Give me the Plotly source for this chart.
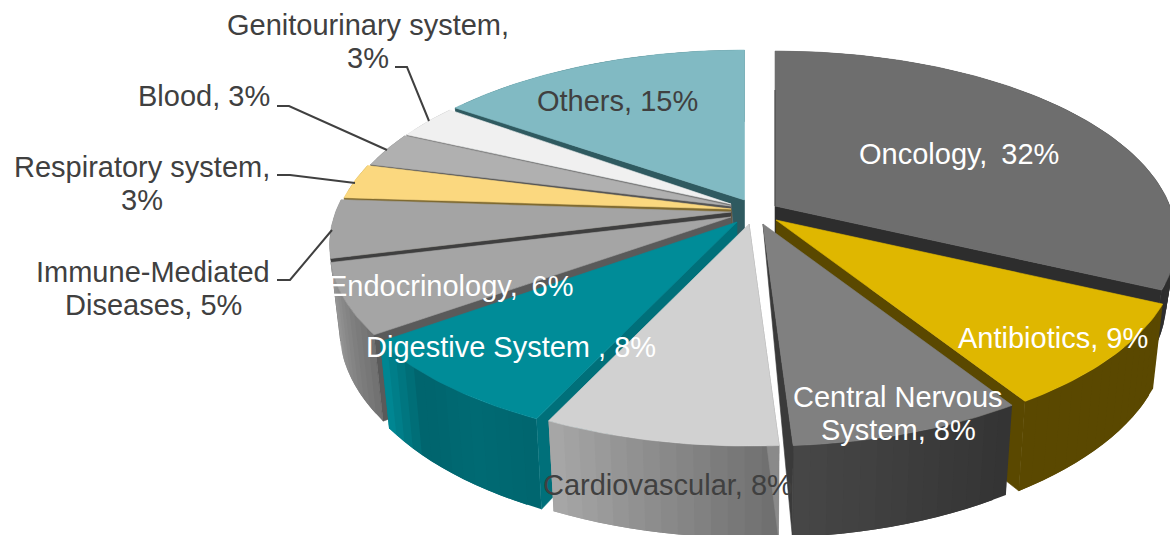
import math
import plotly.graph_objects as go

categories = ["Oncology", "Antibiotics", "Central Nervous System", "Cardiovascular",
              "Digestive System", "Endocrinology", "Immune-Mediated Diseases",
              "Respiratory system", "Blood", "Genitourinary system", "Others"]
values = [32, 9, 8, 8, 8, 6, 5, 3, 3, 3, 15]
top_colors = ["#6e6e6e", "#dfb700", "#808080", "#d1d1d1", "#008c98", "#a5a5a5",
              "#a4a4a4", "#fbd87f", "#b0b0b0", "#f0f0f0", "#81bac3"]
cut_colors = ["#2d2d2d", "#5a4800", "#3a3a3a", "#8a8a8a", "#00707a", "#5a5a5a",
              "#3f3f3f", "#7f6a30", "#555555", "#777777", "#2f5a60"]
# rim shades in order of increasing pie angle
rim_colors = [["#5a5a5a", "#2d2d2d"], ["#5a4800", "#5a4800"], ["#333333", "#474747"],
              ["#6e6e6e", "#a8a8a8"], ["#00656e", "#006a73", "#00646d", "#008a96"],
              ["#707070", "#9c9c9c"], ["#808080", "#909090"], ["#a08a40", "#a08a40"],
              ["#808080", "#808080"], ["#a0a0a0", "#a0a0a0"], ["#3f6f76", "#3f6f76"]]
drops = [60, 80, 80, 80, 80, 80, 80, 80, 80, 80, 80]
hubs = [(775, 206), (776, 220), (763, 224), (749, 224), (737, 222), (731, 215),
        (731, 211), (734, 209), (737, 208), (739, 207), (744.5, 205)]
tips = [(775, 206), (776, 220), (763, 224), (749, 224), (737, 222), (731, 217),
        (731, 212), (731, 209), (731, 206), (731, 204), (744.5, 200)]
paint_order = [0, 10, 9, 8, 7, 6, 5, 4, 1, 2, 3]

labels = [
    ("Oncology,\u2009 32%", 959, 154, "#ffffff"),
    ("Others, 15%", 617, 101, "#404040"),
    ("Antibiotics, 9%", 1053, 338, "#ffffff"),
    ("Central Nervous", 898, 397, "#ffffff"),
    ("System, 8%", 898, 430, "#ffffff"),
    ("Cardiovascular, 8%", 668, 485, "#404040"),
    ("Digestive System\u00a0, 8%", 511, 347, "#ffffff"),
    ("Endocrinology,\u2009 6%", 450, 286, "#ffffff"),
    ("Genitourinary system,", 368, 25, "#404040"),
    ("3%", 368, 58, "#404040"),
    ("Blood, 3%", 204, 96, "#404040"),
    ("Respiratory system,", 142, 167, "#404040"),
    ("3%", 142, 200, "#404040"),
    ("Immune-Mediated", 153, 272, "#404040"),
    ("Diseases, 5%", 153, 305, "#404040"),
]
leaders = [
    ([395, 407, 429], [67, 67, 121]),
    ([277, 289, 387], [106, 106, 150]),
    ([277, 290, 355], [175, 175, 183]),
    ([277, 290, 332], [280, 280, 230]),
]

R, V, P, SHRINK = 395.0, 182.5, 0.178, 0.975


def hexmix(a, b, t):
    ca = [int(a[i:i + 2], 16) for i in (1, 3, 5)]
    cb = [int(b[i:i + 2], 16) for i in (1, 3, 5)]
    return "rgb(%d,%d,%d)" % tuple(round(x + (y - x) * t) for x, y in zip(ca, cb))


def shade(stops, t):
    pos = t * (len(stops) - 1)
    k = min(int(pos), len(stops) - 2)
    return hexmix(stops[k], stops[k + 1], pos - k)


def top_pt(hub, deg):
    t = math.radians(deg)
    s = 1 / (1 + P * math.cos(t))
    return hub[0] + R * math.sin(t) * s, hub[1] - V * math.cos(t) * s


def low_pt(hub, deg, drop):
    t = math.radians(deg)
    s = 1 / (1 + P * math.cos(t))
    return (hub[0] + SHRINK * R * math.sin(t) * s,
            hub[1] - SHRINK * V * math.cos(t) * s + drop * s)


fig = go.Figure()


def poly(pts, color, stroke=0.6):
    xs = [p[0] for p in pts] + [pts[0][0]]
    ys = [p[1] for p in pts] + [pts[0][1]]
    fig.add_trace(go.Scatter(x=xs, y=ys, mode="lines", fill="toself", fillcolor=color,
                             line=dict(color=color, width=stroke), hoverinfo="skip",
                             showlegend=False))


edges = [0.0]
for v in values:
    edges.append(edges[-1] + v * 3.6)

for i in paint_order:
    a0, a1 = edges[i], edges[i + 1]
    hub = hubs[i]
    tip = tips[i]
    drop = drops[i]
    # outer rim, shaded in bands along the arc; each band runs on under the next
    steps = max(4, int((a1 - a0) / 2.0))
    for k in range(steps):
        d0 = a0 + (a1 - a0) * k / steps
        d1 = a0 + (a1 - a0) * min(k + 2, steps) / steps
        col = shade(rim_colors[i], (k + 0.5) / steps)
        arc_t = [top_pt(hub, d0 + (d1 - d0) * j / 4) for j in range(5)]
        arc_l = [low_pt(hub, d1 - (d1 - d0) * j / 4, drop) for j in range(5)]
        poly(arc_t + arc_l, col, stroke=0)
    # the cut face that looks at the viewer
    mid = (a0 + a1) / 2
    edge = a1 if mid < 180 else a0
    c_top, c_low = top_pt(hub, edge), low_pt(hub, edge, drop)
    if categories[i] == "Central Nervous System":
        poly([tip, c_top, c_low], cut_colors[i])
    else:
        poly([tip, c_top, c_low, (hub[0], hub[1] + drop)], cut_colors[i])
    # top face
    n = max(6, int((a1 - a0) / 1.0))
    arc = [top_pt(hub, a0 + (a1 - a0) * k / n) for k in range(n + 1)]
    poly([tip] + arc, top_colors[i])

# thin dark sliver down the straight left edge of the largest slice
fig.add_trace(go.Scatter(x=[775, 775], y=[90, 206], mode="lines", hoverinfo="skip",
                         showlegend=False, line=dict(color="#444444", width=1)))

for xs, ys in leaders:
    fig.add_trace(go.Scatter(x=xs, y=ys, mode="lines", hoverinfo="skip", showlegend=False,
                             line=dict(color="#404040", width=2)))

for text, x, y, color in labels:
    fig.add_annotation(x=x, y=y, text=text, showarrow=False, xanchor="center", yanchor="middle",
                       font=dict(family="Liberation Sans", size=29, color=color))

fig.update_layout(width=1170, height=535, margin=dict(l=0, r=0, t=0, b=0),
                  paper_bgcolor="white", plot_bgcolor="white", showlegend=False,
                  xaxis=dict(range=[0, 1170], visible=False, fixedrange=True),
                  yaxis=dict(range=[535, 0], visible=False, fixedrange=True))

fig.write_html("out.html", config=dict(displayModeBar=False),
               post_script="document.body.style.margin='0';")
